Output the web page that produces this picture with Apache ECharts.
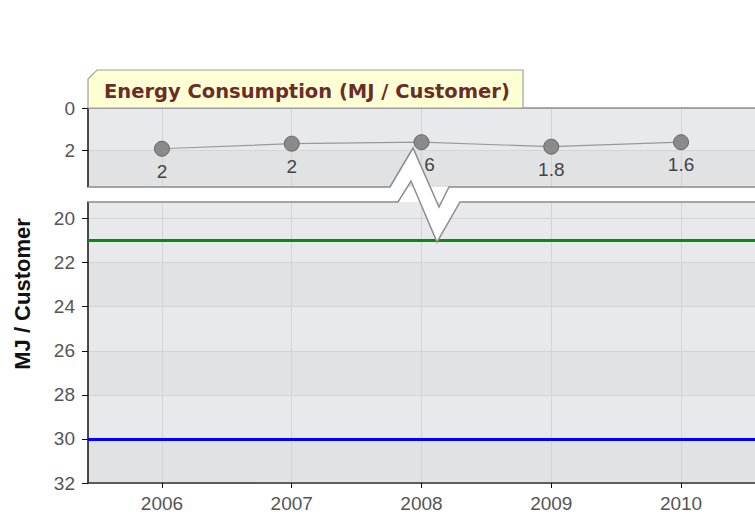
<!DOCTYPE html>
<html>
<head>
<meta charset="utf-8">
<script src="https://cdn.jsdelivr.net/npm/echarts@6/dist/echarts.min.js"></script>
<style>
html, body { margin: 0; padding: 0; background: #fff; }
#chart { width: 755px; height: 519px; }
</style>
</head>
<body>
<div id="chart"></div>
<script>
// data
const years = [2006, 2007, 2008, 2009, 2010]
const consumption = [1.92, 1.68, 1.61, 1.82, 1.61]
const pointLabels = ['2', '2', '1.6', '1.8', '1.6']
const topTicks = [0, 2]
const bottomTicks = [20, 22, 24, 26, 28, 30, 32]
const greenLevel = 21
const blueLevel = 30

const titleText = 'Energy Consumption (MJ / Customer)'
const axisName = 'MJ / Customer'

const LIGHT = '#e7e9ec'
const DARK = '#e1e2e4'
const GRID_LINE = '#d3d4d6'
const LABEL_FONT = { color: '#555', fontSize: 19, fontFamily: 'Liberation Sans, Arial, sans-serif' }

var chart = echarts.init(document.getElementById('chart'), null, { renderer: 'svg' })

const xBase = {
	type: 'value',
	min: 2005.43,
	max: 2010.57,
	splitLine: { show: true, lineStyle: { color: GRID_LINE } },
	axisTick: { customValues: years },
	axisLabel: { customValues: years },
}

const yBase = {
	type: 'value',
	inverse: true,
	axisLine: { show: true, lineStyle: { color: '#111', width: 1.5 } },
	axisTick: { show: true, length: 6, lineStyle: { color: '#111' } },
	axisLabel: Object.assign({ margin: 13 }, LABEL_FONT),
	splitLine: { show: true, lineStyle: { color: GRID_LINE } },
	splitArea: { show: true, areaStyle: { color: [LIGHT, DARK] } },
}

var option = {
	animation: false,
	grid: [
		{ left: 88, top: 108, width: 673, height: 79, show: true, backgroundColor: DARK, borderWidth: 0 },
		{ left: 88, top: 202, width: 673, height: 281, show: true, backgroundColor: LIGHT, borderWidth: 0 },
	],
	xAxis: [
		Object.assign({}, xBase, {
			gridIndex: 0,
			axisLine: { show: false },
			axisTick: { show: false, customValues: years },
			axisLabel: { show: false, customValues: years },
		}),
		Object.assign({}, xBase, {
			gridIndex: 1,
			axisLine: { show: true, lineStyle: { color: '#333', width: 1.5 } },
			axisTick: { show: true, length: 5, customValues: years, lineStyle: { color: '#111' } },
			axisLabel: Object.assign({ customValues: years, margin: 11, formatter: (v) => String(v) }, LABEL_FONT),
		}),
	],
	yAxis: [
		Object.assign({}, yBase, {
			gridIndex: 0,
			min: 0,
			max: 3.72,
			axisTick: Object.assign({}, yBase.axisTick, { customValues: topTicks }),
			axisLabel: Object.assign({}, yBase.axisLabel, { customValues: topTicks }),
		}),
		Object.assign({}, yBase, {
			gridIndex: 1,
			min: 19.25,
			max: 32,
			axisTick: Object.assign({}, yBase.axisTick, { customValues: bottomTicks }),
			axisLabel: Object.assign({}, yBase.axisLabel, { customValues: bottomTicks }),
		}),
	],
	series: [
		{
			type: 'line',
			xAxisIndex: 0,
			yAxisIndex: 0,
			data: years.map((y, i) => [y, consumption[i]]),
			symbol: 'circle',
			symbolSize: 15,
			itemStyle: { color: '#8a8a8a', borderColor: '#666', borderWidth: 1 },
			lineStyle: { color: '#999', width: 1.2 },
			label: {
				show: true,
				position: 'bottom',
				distance: 5,
				color: '#444',
				fontSize: 19,
				fontFamily: 'Liberation Sans, Arial, sans-serif',
				formatter: (p) => pointLabels[p.dataIndex],
			},
			z: 3,
		},
		{
			type: 'line',
			xAxisIndex: 1,
			yAxisIndex: 1,
			data: [],
			markLine: {
				silent: true,
				symbol: 'none',
				label: { show: false },
				data: [
					{ yAxis: greenLevel, lineStyle: { color: '#0a8a0a', width: 3, type: 'solid' } },
					{ yAxis: blueLevel, lineStyle: { color: '#0000ff', width: 3, type: 'solid' } },
				],
			},
		},
	],
}

option && chart.setOption(option)

// break band between the two panels, with the zigzag near 2008
const upper = [[88, 187], [390, 187], [413, 148], [439, 207], [449, 187], [761, 187]]
const lower = [[761, 202], [460, 202], [437, 242], [411, 181], [398, 202], [88, 202]]

chart.setOption({
	graphic: [
		{
			type: 'polygon',
			shape: { points: upper.concat(lower) },
			style: { fill: '#fff', stroke: null },
			z: 50,
		},
		{
			type: 'polyline',
			shape: { points: upper },
			style: { stroke: '#8c8c8c', lineWidth: 1.5, fill: null },
			z: 51,
		},
		{
			type: 'polyline',
			shape: { points: lower },
			style: { stroke: '#8c8c8c', lineWidth: 1.5, fill: null },
			z: 51,
		},
		// panel top border
		{
			type: 'line',
			shape: { x1: 88, y1: 108, x2: 761, y2: 108 },
			style: { stroke: '#8c8c8c', lineWidth: 1.5 },
			z: 51,
		},
		// title tab
		{
			type: 'polygon',
			shape: { points: [[88, 108], [88, 79], [97, 70], [523, 70], [523, 108]] },
			style: { fill: '#ffffd6', stroke: '#a0a0a0', lineWidth: 1.2 },
			z: 60,
		},
		{
			type: 'text',
			x: 104,
			y: 91,
			style: {
				text: titleText,
				fill: '#6b2c28',
				font: 'bold 19.5px "DejaVu Sans", Verdana, sans-serif',
				verticalAlign: 'middle',
			},
			z: 61,
		},
		{
			type: 'text',
			x: 22,
			y: 294,
			rotation: Math.PI / 2,
			style: {
				text: axisName,
				fill: '#111',
				font: 'bold 22px "Liberation Sans", Arial, sans-serif',
				align: 'center',
				verticalAlign: 'middle',
			},
			z: 61,
		},
	],
})
</script>
</body>
</html>
